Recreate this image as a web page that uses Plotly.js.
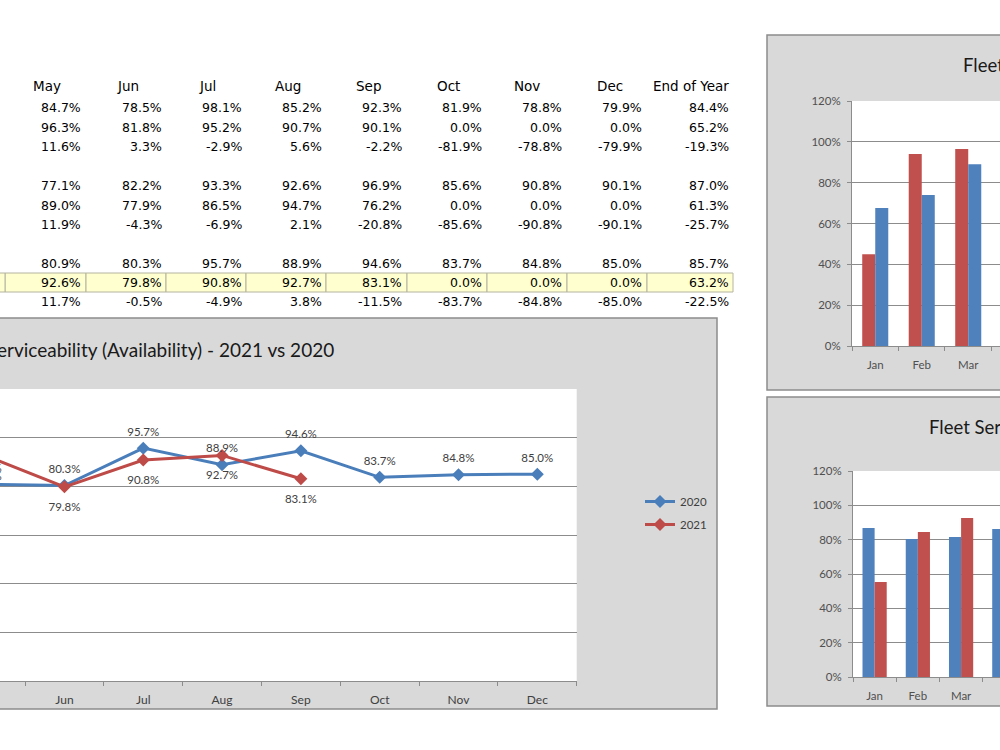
<!DOCTYPE html>
<html>
<head>
<meta charset="utf-8">
<script src="https://cdn.plot.ly/plotly-3.0.1.min.js"></script>
<style>
html,body{margin:0;padding:0;background:#fff;overflow:hidden;}
#chart{width:1000px;height:750px;}
</style>
</head>
<body>
<div id="chart"></div>
<script>
// ---------------- DATA ----------------
const tableHeaders = ['May','Jun','Jul','Aug','Sep','Oct','Nov','Dec','End of Year'];
const fleetA2020 = [84.7, 78.5, 98.1, 85.2, 92.3, 81.9, 78.8, 79.9, 84.4];
const fleetA2021 = [96.3, 81.8, 95.2, 90.7, 90.1, 0.0, 0.0, 0.0, 65.2];
const fleetADiff = [11.6, 3.3, -2.9, 5.6, -2.2, -81.9, -78.8, -79.9, -19.3];
const fleetB2020 = [77.1, 82.2, 93.3, 92.6, 96.9, 85.6, 90.8, 90.1, 87.0];
const fleetB2021 = [89.0, 77.9, 86.5, 94.7, 76.2, 0.0, 0.0, 0.0, 61.3];
const fleetBDiff = [11.9, -4.3, -6.9, 2.1, -20.8, -85.6, -90.8, -90.1, -25.7];
const total2020  = [80.9, 80.3, 95.7, 88.9, 94.6, 83.7, 84.8, 85.0, 85.7];
const total2021  = [92.6, 79.8, 90.8, 92.7, 83.1, 0.0, 0.0, 0.0, 63.2];
const totalDiff  = [11.7, -0.5, -4.9, 3.8, -11.5, -83.7, -84.8, -85.0, -22.5];

const allMonths = ['Jan','Feb','Mar','Apr','May','Jun','Jul','Aug','Sep','Oct','Nov','Dec'];
// line chart (visible months May..Dec)
const lineMonths2020 = ['May','Jun','Jul','Aug','Sep','Oct','Nov','Dec'];
const line2020 = [80.9, 80.3, 95.7, 88.9, 94.6, 83.7, 84.8, 85.0];
const lineMonths2021 = ['May','Jun','Jul','Aug','Sep'];
const line2021 = [92.6, 79.8, 90.8, 92.7, 83.1];

// top-right bar chart
const topBarMonths = ['Jan','Feb','Mar'];
const topBarRed  = [45.0, 94.0, 96.5];
const topBarBlue = [67.6, 74.0, 89.0];

// bottom-right bar chart
const botBarMonths = ['Jan','Feb','Mar','Apr'];
const botBarBlue = [86.8, 80.4, 81.5, 86.2];
const botBarRed  = [55.3, 84.5, 92.6];

// ---------------- LAYOUT HELPERS ----------------
const W = 1000, H = 750;
const px = x => x / W;
const py = y => 1 - y / H;
const BLUE = '#4F81BD', RED = '#C0504D';
const GRID = '#8C8C8C';
const BOXFILL = '#D9D9D9';
const TFONT = 'DejaVu Sans, Verdana, sans-serif';
const CFONT = 'Lato, Calibri, Carlito, sans-serif';

const tableRows = [
  fleetA2020, fleetA2021, fleetADiff,
  fleetB2020, fleetB2021, fleetBDiff,
  total2020, total2021, totalDiff
];
const rowY = [107.5, 127, 147, 185, 205, 224.5, 263, 282.5, 301.5];
const colRight = [82, 163, 243, 323, 403, 483, 563, 643, 730];
const headerX = [47, 128, 207, 288, 368, 448, 527, 610, 691];
const cellEdges = [5, 86, 166, 246, 326, 407, 487, 567, 647, 733];

const shapes = [];
const rect = (x0, y0, x1, y1, fill, line, lw) => shapes.push({
  type: 'rect', xref: 'paper', yref: 'paper', layer: 'below',
  x0: px(x0), x1: px(x1), y0: py(y1), y1: py(y0),
  fillcolor: fill, line: {color: line || 'rgba(0,0,0,0)', width: lw || 0}
});

// highlighted row
for (let i = 0; i < cellEdges.length - 1; i++) {
  rect(cellEdges[i], 273, cellEdges[i + 1], 292, '#FFFFD0', '#B4B4A0', 1);
}
rect(-80, 273, 5, 292, '#FFFFD0', '#B4B4A0', 1);

// chart boxes
rect(-5, 318, 717, 709, BOXFILL, '#8C8C8C', 1.5);
rect(0, 389, 576.7, 681, '#FFFFFF');
rect(767, 35, 1010, 390, BOXFILL, '#8C8C8C', 1.5);
rect(852, 101, 1000, 346, '#FFFFFF');
rect(767, 397, 1010, 706, BOXFILL, '#8C8C8C', 1.5);
rect(853, 471, 1000, 677, '#FFFFFF');

const annotations = [];
tableHeaders.forEach((h, i) => annotations.push({
  xref: 'paper', yref: 'paper', x: px(headerX[i]), y: py(86.5),
  xanchor: 'center', yanchor: 'middle', showarrow: false, text: h,
  font: {family: TFONT, size: 13.5, color: '#000'}
}));
tableRows.forEach((row, r) => row.forEach((v, i) => annotations.push({
  xref: 'paper', yref: 'paper', x: px(colRight[i] + 1), y: py(rowY[r]),
  xanchor: 'right', yanchor: 'middle', showarrow: false,
  text: v.toFixed(1) + '%',
  font: {family: TFONT, size: 12.5, color: '#000'}
})));

// chart titles
annotations.push({xref: 'paper', yref: 'paper', x: px(336), y: py(349),
  xanchor: 'right', yanchor: 'middle', showarrow: false,
  text: 'Fleet Serviceability (Availability) - 2021 vs 2020',
  font: {family: CFONT, size: 19, color: '#1A1A1A'}});
annotations.push({xref: 'paper', yref: 'paper', x: px(961), y: py(65),
  xanchor: 'left', yanchor: 'middle', showarrow: false,
  text: 'Fleet Serviceability',
  font: {family: CFONT, size: 18.5, color: '#1A1A1A'}});
annotations.push({xref: 'paper', yref: 'paper', x: px(927), y: py(427),
  xanchor: 'left', yanchor: 'middle', showarrow: false,
  text: 'Fleet Serviceability - 2021 vs 2020',
  font: {family: CFONT, size: 18.5, color: '#1A1A1A'}});

const pct = a => a.map(v => v / 100);
const lbl = a => a.map(v => v.toFixed(1) + '%');
const LBLFONT = {family: CFONT, size: 11.5, color: '#404040'};

const traces = [
  {type: 'scatter', mode: 'lines+markers', name: '2020', legendgroup: 'a',
   x: lineMonths2020, y: pct(line2020),
   line: {color: '#4A7EBB', width: 3}, marker: {symbol: 'diamond', size: 10, color: '#4A7EBB'},
   xaxis: 'x', yaxis: 'y', hoverinfo: 'skip'},
  {type: 'scatter', mode: 'lines+markers', name: '2021', legendgroup: 'b',
   x: lineMonths2021, y: pct(line2021),
   line: {color: '#BE4B48', width: 3}, marker: {symbol: 'diamond', size: 10, color: '#BE4B48'},
   xaxis: 'x', yaxis: 'y', hoverinfo: 'skip'},
  // data labels
  {type: 'scatter', mode: 'markers+text', x: lineMonths2020, y: pct(line2020), text: lbl(line2020),
   textposition: 'top center', textfont: LBLFONT, marker: {size: 14, color: 'rgba(0,0,0,0)'},
   xaxis: 'x', yaxis: 'y', showlegend: false, hoverinfo: 'skip'},
  {type: 'scatter', mode: 'markers+text', x: lineMonths2021, y: pct(line2021), text: lbl(line2021),
   textposition: 'bottom center', textfont: LBLFONT, marker: {size: 23, color: 'rgba(0,0,0,0)'},
   xaxis: 'x', yaxis: 'y', showlegend: false, hoverinfo: 'skip'},
  {type: 'bar', x: topBarMonths, y: pct(topBarRed), marker: {color: RED},
   xaxis: 'x2', yaxis: 'y2', showlegend: false, hoverinfo: 'skip'},
  {type: 'bar', x: topBarMonths, y: pct(topBarBlue), marker: {color: BLUE},
   xaxis: 'x2', yaxis: 'y2', showlegend: false, hoverinfo: 'skip'},
  {type: 'bar', x: botBarMonths, y: pct(botBarBlue), marker: {color: BLUE},
   xaxis: 'x3', yaxis: 'y3', showlegend: false, hoverinfo: 'skip'},
  {type: 'bar', x: botBarMonths.slice(0, botBarRed.length), y: pct(botBarRed), marker: {color: RED},
   xaxis: 'x3', yaxis: 'y3', showlegend: false, hoverinfo: 'skip'}
];

const tickFont = {family: CFONT, size: 11.5, color: '#505050'};
const xCat = (domain, range, anchor) => ({
  type: 'category', categoryorder: 'array', categoryarray: allMonths,
  domain: domain, range: range, anchor: anchor, fixedrange: true,
  showline: true, linecolor: GRID, linewidth: 1,
  ticks: 'outside', ticklen: 4, tickcolor: GRID, tickson: 'boundaries',
  ticklabelstandoff: 8,
  showgrid: false, zeroline: false, tickfont: tickFont
});
const yPct = (domain, anchor, labels) => ({
  domain: domain, range: [0, 1.2], dtick: 0.2, tickformat: '.0%', anchor: anchor,
  fixedrange: true, showgrid: true, gridcolor: GRID, gridwidth: 1, zeroline: false,
  showline: labels, linecolor: GRID, ticks: labels ? 'outside' : '', ticklen: 4, tickcolor: GRID,
  showticklabels: labels, tickfont: tickFont, ticklabelstandoff: 4
});

const layout = {
  width: W, height: H, margin: {l: 0, r: 0, t: 0, b: 0},
  paper_bgcolor: 'rgba(0,0,0,0)', plot_bgcolor: 'rgba(0,0,0,0)',
  barmode: 'group', bargap: 0.44, bargroupgap: 0,
  showlegend: true,
  legend: {x: px(640), y: py(487), xanchor: 'left', yanchor: 'top',
    bgcolor: 'rgba(0,0,0,0)', font: {family: CFONT, size: 11.5, color: '#404040'},
    itemwidth: 30, traceorder: 'grouped', tracegroupgap: 4},
  xaxis: xCat([0, px(576.7)], [4.182, 11.5], 'y'),
  yaxis: yPct([py(681), py(389)], 'x', false),
  xaxis2: xCat([px(852), 1], [-0.5, 2.683], 'y2'),
  yaxis2: yPct([py(346), py(101)], 'x2', true),
  xaxis3: xCat([px(853), 1], [-0.5, 2.90], 'y3'),
  yaxis3: yPct([py(677), py(471)], 'x3', true),
  shapes: shapes, annotations: annotations,
  font: {family: CFONT}
};
layout.xaxis.tickfont = {family: CFONT, size: 12, color: '#404040'};

Plotly.newPlot('chart', traces, layout, {staticPlot: true, displayModeBar: false});
</script>
</body>
</html>
